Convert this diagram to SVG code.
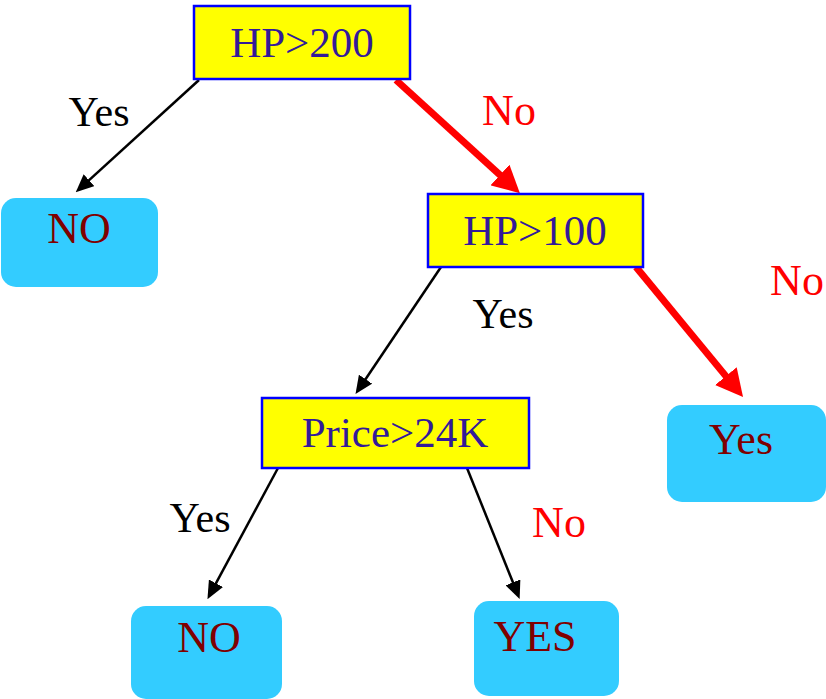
<svg xmlns="http://www.w3.org/2000/svg" width="826" height="699" viewBox="0 0 826 699">
<style>
.dec rect{fill:#FFFF00;stroke:#0000FF;stroke-width:2.5}
.dec text{font-family:"Liberation Serif","DejaVu Serif",serif;font-size:43px;fill:#331A99;text-anchor:middle}
.leaf rect{fill:#33CCFF;stroke:none}
.leaf text{font-family:"Liberation Serif","DejaVu Serif",serif;font-size:44px;fill:#800000;text-anchor:middle}
.lbl{font-family:"Liberation Serif","DejaVu Serif",serif;font-size:42px;text-anchor:middle}
.yes{fill:#000000}
.no{fill:#FF0000;font-size:44px}
.thin{stroke:#000000;stroke-width:2.5;fill:none;marker-end:url(#ab)}
.thick{stroke:#FF0000;stroke-width:7;fill:none;marker-end:url(#ar)}
</style>
<defs>
<marker id="ab" markerUnits="userSpaceOnUse" markerWidth="18" markerHeight="16" refX="1" refY="8" orient="auto">
<path d="M0,0 L18,8 L0,16 z" fill="#000000"/>
</marker>
<marker id="ar" markerUnits="userSpaceOnUse" markerWidth="27" markerHeight="28" refX="1" refY="14" orient="auto">
<path d="M0,0 L27,14 L0,28 z" fill="#FF0000"/>
</marker>
</defs>
<rect width="826" height="699" fill="#FFFFFF"/>
<g id="connectors">
<line class="thin" x1="199" y1="80" x2="88.3" y2="180.9"/>
<line class="thick" x1="396" y1="80" x2="500.7" y2="175.6"/>
<line class="thin" x1="441" y1="267" x2="365" y2="380"/>
<line class="thick" x1="636" y1="267" x2="726.5" y2="376.9"/>
<line class="thin" x1="278" y1="468" x2="215.5" y2="584.2"/>
<line class="thin" x1="467" y1="468" x2="513.3" y2="583.3"/>
</g>
<g id="labels">
<text class="lbl yes" x="99" y="126">Yes</text>
<text class="lbl no" x="509" y="125">No</text>
<text class="lbl yes" x="503" y="328">Yes</text>
<text class="lbl no" x="797" y="295">No</text>
<text class="lbl yes" x="200" y="532">Yes</text>
<text class="lbl no" x="559" y="537">No</text>
</g>
<g id="n_hp200" class="dec">
<rect x="194" y="6" width="216" height="73"/>
<text x="302" y="57">HP&gt;200</text>
</g>
<g id="n_hp100" class="dec">
<rect x="428" y="194" width="215" height="73"/>
<text x="535" y="245">HP&gt;100</text>
</g>
<g id="n_price" class="dec">
<rect x="262" y="398" width="267" height="70"/>
<text x="395" y="447">Price&gt;24K</text>
</g>
<g id="l_no1" class="leaf">
<rect x="1" y="198" width="157" height="89" rx="15"/>
<text x="79" y="243">NO</text>
</g>
<g id="l_yes" class="leaf">
<rect x="667" y="405" width="159" height="97" rx="15"/>
<text x="741" y="454">Yes</text>
</g>
<g id="l_no2" class="leaf">
<rect x="131" y="606" width="151" height="93" rx="15"/>
<text x="209" y="652">NO</text>
</g>
<g id="l_yes2" class="leaf">
<rect x="474" y="601" width="145" height="95" rx="15"/>
<text x="535" y="651">YES</text>
</g>
</svg>
